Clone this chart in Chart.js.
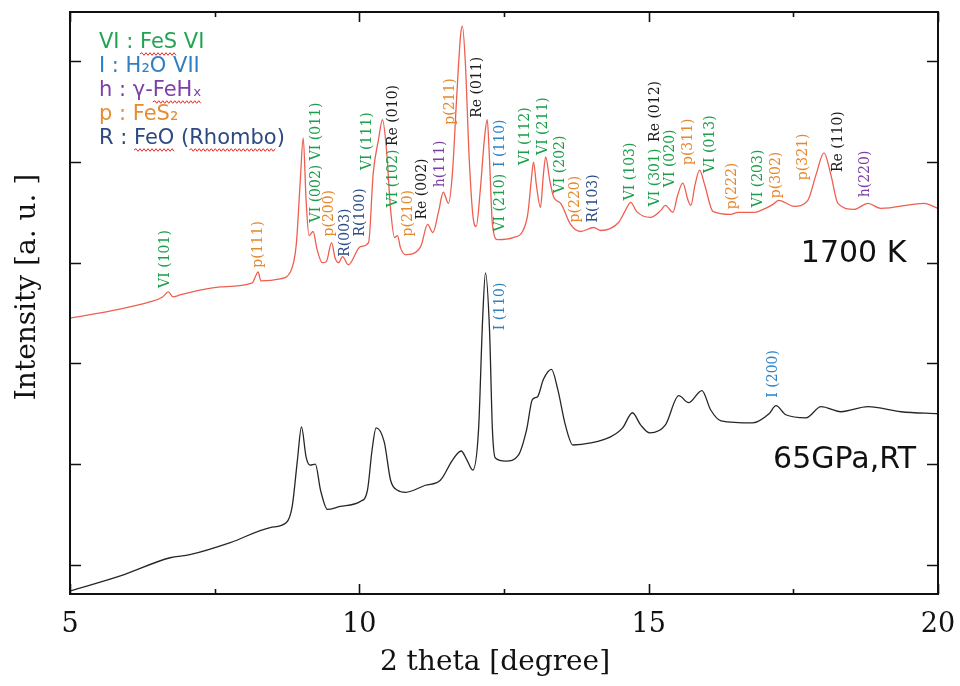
<!DOCTYPE html>
<html>
<head>
<meta charset="utf-8">
<title>XRD patterns - 65 GPa</title>
<script src="https://cdn.jsdelivr.net/npm/chart.js@4.4.1/dist/chart.umd.min.js"></script>
<style>
  html, body { margin: 0; padding: 0; background: #fff; }
  #wrap { width: 960px; height: 686px; }
</style>
</head>
<body>
<div id="wrap"><canvas id="xrd" width="960" height="686"></canvas></div>
<script>
// ========================================
// data (2 theta in degrees, intensity in a.u.)
// ========================================

// after heating, 1700 K (red)
const theta1700 = [5.00, 5.69, 6.38, 6.60, 6.70, 6.78, 6.90, 7.60, 8.15, 8.21, 8.25, 8.30, 8.63, 8.81, 8.91,
  8.98, 9.03, 9.08, 9.13, 9.20, 9.27, 9.36, 9.43, 9.52, 9.58, 9.64, 9.71, 9.81, 10.02, 10.16, 10.24,
  10.33, 10.40, 10.47, 10.54, 10.61, 10.66, 10.71, 10.80, 11.06, 11.18, 11.27, 11.37, 11.45, 11.54,
  11.61, 11.68, 11.75, 11.78, 11.83, 11.90, 11.97, 12.02, 12.09, 12.16, 12.21, 12.25, 12.30, 12.39,
  12.66, 12.82, 12.91, 12.98, 13.01, 13.06, 13.13, 13.18, 13.22, 13.29, 13.36, 13.48, 13.65, 13.82,
  14.05, 14.17, 14.48, 14.59, 14.69, 14.79, 15.03, 15.21, 15.29, 15.42, 15.50, 15.59, 15.68, 15.73,
  15.80, 15.88, 15.97, 16.11, 16.42, 16.54, 16.82, 16.94, 17.15, 17.25, 17.51, 17.75, 17.89, 18.03,
  18.15, 18.27, 18.55, 18.79, 19.01, 19.76, 20.00];
const int1700 = [2.45, 2.52, 2.61, 2.66, 2.71, 2.66, 2.68, 2.76, 2.80, 2.87, 2.91, 2.82, 2.84, 2.91, 3.18,
  3.82, 4.24, 3.62, 3.27, 3.31, 3.13, 3.00, 3.01, 3.20, 3.05, 3.00, 3.06, 2.98, 3.16, 3.20, 3.89,
  4.22, 4.42, 4.12, 3.53, 3.25, 3.27, 3.15, 3.08, 3.16, 3.38, 3.30, 3.51, 3.70, 3.59,
  3.90, 4.62, 5.26, 5.35, 5.01, 4.02, 3.43, 3.36, 3.72, 4.22, 4.42, 4.02, 3.38, 3.23,
  3.25, 3.31, 3.48, 3.87, 4.00, 3.77, 3.55, 3.87, 4.05, 3.82, 3.65, 3.59, 3.38, 3.31,
  3.35, 3.32, 3.40, 3.51, 3.60, 3.51, 3.45, 3.52, 3.57, 3.50, 3.67, 3.79, 3.62, 3.57,
  3.77, 3.92, 3.77, 3.51, 3.48, 3.50, 3.50, 3.52, 3.58, 3.62, 3.56, 3.62, 3.87, 4.09,
  3.87, 3.59, 3.53, 3.59, 3.54, 3.59, 3.54];

// before heating, 65 GPa RT (black)
const thetaRT = [5.00, 5.87, 6.73, 7.07, 7.77, 8.46, 8.74, 8.84, 8.93, 9.00, 9.08, 9.15, 9.24, 9.33, 9.45,
  9.67, 10.02, 10.14, 10.22, 10.29, 10.43, 10.54, 10.66, 10.80, 11.14, 11.40, 11.61, 11.76, 11.86,
  11.96, 12.06, 12.13, 12.18, 12.25, 12.30, 12.35, 12.53, 12.75, 12.89, 12.99, 13.08, 13.18, 13.32,
  13.43, 13.56, 13.69, 14.00, 14.34, 14.55, 14.72, 14.86, 15.02, 15.29, 15.52, 15.69, 15.92, 16.07,
  16.25, 16.80, 17.08, 17.20, 17.37, 17.72, 17.98, 18.32, 18.79, 19.36, 20.00];
const intRT = [-0.26, -0.11, 0.07, 0.10, 0.22, 0.37, 0.42, 0.58, 1.04, 1.37, 1.07, 0.99, 1.00, 0.74, 0.55,
  0.58, 0.63, 0.74, 1.14, 1.36, 1.22, 0.84, 0.74, 0.72, 0.79, 0.84, 1.04, 1.13, 1.04,
  0.94, 1.34, 2.43, 2.90, 2.33, 1.34, 1.06, 1.03, 1.09, 1.34, 1.64, 1.67, 1.84, 1.94,
  1.74, 1.39, 1.19, 1.21, 1.27, 1.36, 1.51, 1.39, 1.31, 1.39, 1.68, 1.61, 1.73, 1.54,
  1.43, 1.41, 1.50, 1.58, 1.49, 1.46, 1.57, 1.52, 1.57, 1.52, 1.50];

// peak indices: text, 2 theta, intensity where the label starts, phase
const peakText = ['VI (101)', 'p(111)', 'VI (002) VI (011)', 'p(200)', 'R(003)', 'R(100)', 'VI (111)',
  'VI (102)', 'Re (010)', 'p(210)', 'Re (002)', 'h(111)', 'p(211)', 'Re (011)', 'VI (210)', 'I (110)',
  'VI (112)', 'VI (211)', 'VI (202)', 'p(220)', 'R(103)', 'VI (103)', 'VI (301)', 'Re (012)', 'VI (020)',
  'p(311)', 'VI (013)', 'p(222)', 'VI (203)', 'p(302)', 'p(321)', 'Re (110)', 'h(220)', 'I (110)', 'I (200)'];
const peakTheta = [6.64, 8.25, 9.26, 9.48, 9.76, 10.02, 10.14, 10.59, 10.59, 10.85, 11.09, 11.40, 11.57,
  12.04, 12.44, 12.44, 12.87, 13.18, 13.48, 13.74, 14.05, 14.69, 15.12, 15.12, 15.38, 15.69, 16.07,
  16.45, 16.89, 17.20, 17.68, 18.27, 18.75, 12.44, 17.16];
const peakBase = [2.75, 2.95, 3.40, 3.26, 3.06, 3.26, 3.92, 3.55, 4.16, 3.26, 3.43, 3.75, 4.37, 4.44,
  3.31, 3.95, 3.97, 4.07, 3.69, 3.40, 3.40, 3.62, 3.56, 4.20, 3.75, 3.97, 3.89, 3.53, 3.55, 3.64,
  3.82, 3.90, 3.65, 2.33, 1.66];
const peakPhase = ['VI', 'p', 'VI', 'p', 'R', 'R', 'VI', 'VI', 'Re', 'p', 'Re', 'h', 'p', 'Re', 'VI', 'I',
  'VI', 'VI', 'VI', 'p', 'R', 'VI', 'VI', 'Re', 'VI', 'p', 'VI', 'p', 'VI', 'p', 'p', 'Re', 'h', 'I', 'I'];

// phase key (top left)
const legendText = ['VI : FeS VI', 'I : H\u2082O VII', 'h : \u03b3-FeH\u2093', 'p : FeS\u2082', 'R : FeO (Rhombo)'];
const legendPhase = ['VI', 'I', 'h', 'p', 'R'];
const legendWavy = [['FeS'], [], ['FeH\u2093'], [], ['FeO', 'Rhombo']];

// sample conditions
const sampleText = ['1700 K', '65GPa,RT'];
const sampleTheta = [17.63, 17.15];
const sampleLevel = [3.08, 1.04];

// axes
const xTickValues = [5, 10, 15, 20];
const xTickLabels = ['5', '10', '15', '20'];

const phaseColor = { VI: '#1c9e4b', I: '#2f84c6', h: '#7b3fa6', p: '#e6892e', R: '#2b4d86', Re: '#1a1a1a' };
const legendColor = { VI: '#22a552', I: '#2f7fc2', h: '#7d40a6', p: '#e68c33', R: '#2d4a80' };

const SERIF = '"DejaVu Serif", "Liberation Serif", serif';
const SANS = '"DejaVu Sans", Verdana, sans-serif';

function squiggle(ctx, x0, x1, y) {
    ctx.beginPath();
    ctx.moveTo(x0, y);
    let up = true;
    for (let xx = x0 + 2; xx <= x1; xx += 2) {
        ctx.lineTo(xx, y + (up ? -1.3 : 1.3));
        up = !up;
    }
    ctx.stroke();
}

// frame, inward ticks, axis text, peak labels, key
const decorPlugin = {
    id: 'decor',
    afterDraw(chart) {
        const { ctx, chartArea: a, scales: { x, y } } = chart;
        ctx.save();

        // frame
        ctx.strokeStyle = '#111';
        ctx.lineWidth = 2;
        ctx.strokeRect(a.left, a.top, a.right - a.left, a.bottom - a.top);

        // inward ticks
        ctx.lineWidth = 1.6;
        x.ticks.forEach(t => {
            const px = Math.round(x.getPixelForValue(t.value)) + 0.5;
            const len = t.value % 5 === 0 ? 10 : 5;
            ctx.beginPath();
            ctx.moveTo(px, a.bottom); ctx.lineTo(px, a.bottom - len);
            ctx.moveTo(px, a.top); ctx.lineTo(px, a.top + len);
            ctx.stroke();
        });
        y.ticks.filter(t => Number.isInteger(t.value)).forEach(t => {
            const py = Math.round(y.getPixelForValue(t.value)) + 0.5;
            ctx.beginPath();
            ctx.moveTo(a.left, py); ctx.lineTo(a.left + 11, py);
            ctx.moveTo(a.right, py); ctx.lineTo(a.right - 11, py);
            ctx.stroke();
        });

        // tick labels
        ctx.fillStyle = '#111';
        ctx.font = '27px ' + SERIF;
        ctx.textAlign = 'center';
        ctx.textBaseline = 'middle';
        xTickValues.forEach((v, i) => {
            ctx.fillText(xTickLabels[i], x.getPixelForValue(v), a.bottom + 31);
        });

        // axis titles
        ctx.font = '28px ' + SERIF;
        ctx.fillText('2 theta [degree]', 495, a.bottom + 69);
        ctx.save();
        ctx.translate(28, 287);
        ctx.rotate(-Math.PI / 2);
        ctx.fillText('Intensity [a. u. ]', 0, 0);
        ctx.restore();

        // peak indices, written upward from their anchor
        ctx.font = '14px ' + SERIF;
        ctx.textAlign = 'left';
        ctx.textBaseline = 'middle';
        peakText.forEach((txt, i) => {
            ctx.save();
            ctx.translate(x.getPixelForValue(peakTheta[i]), y.getPixelForValue(peakBase[i]));
            ctx.rotate(-Math.PI / 2);
            ctx.fillStyle = phaseColor[peakPhase[i]];
            ctx.fillText(txt, 0, 0);
            ctx.restore();
        });

        // sample conditions
        ctx.font = '30px ' + SANS;
        ctx.fillStyle = '#111';
        sampleText.forEach((txt, i) => {
            ctx.fillText(txt, x.getPixelForValue(sampleTheta[i]), y.getPixelForValue(sampleLevel[i]));
        });

        // phase key with the spell-check underlines of the original
        ctx.font = '21px ' + SANS;
        const kx = a.left + 29;
        legendText.forEach((txt, i) => {
            const ky = a.top + 31 + i * 24;
            ctx.fillStyle = legendColor[legendPhase[i]];
            ctx.fillText(txt, kx, ky);
            ctx.strokeStyle = '#e02a2a';
            ctx.lineWidth = 1;
            legendWavy[i].forEach(w => {
                const idx = txt.indexOf(w);
                const x0 = kx + ctx.measureText(txt.slice(0, idx)).width;
                const x1 = x0 + ctx.measureText(w).width;
                squiggle(ctx, x0, x1, ky + 11);
            });
        });

        ctx.restore();
    }
};

const ctx = document.getElementById('xrd').getContext('2d');
new Chart(ctx, {
    type: 'line',
    data: {
        datasets: [
            {
                label: '1700 K',
                data: theta1700.map((t, i) => ({ x: t, y: int1700[i] })),
                borderColor: '#ef5f50',
                borderWidth: 1.3,
                pointRadius: 0,
                cubicInterpolationMode: 'monotone'
            },
            {
                label: '65GPa,RT',
                data: thetaRT.map((t, i) => ({ x: t, y: intRT[i] })),
                borderColor: '#262626',
                borderWidth: 1.3,
                pointRadius: 0,
                cubicInterpolationMode: 'monotone'
            }
        ]
    },
    options: {
        responsive: false,
        animation: false,
        devicePixelRatio: 1,
        layout: { padding: { left: 70, right: 22, top: 12, bottom: 92 } },
        plugins: {
            legend: { display: false },
            tooltip: { enabled: false }
        },
        scales: {
            x: {
                type: 'linear',
                display: false,
                min: 5,
                max: 20,
                ticks: { stepSize: 2.5 }
            },
            y: {
                type: 'linear',
                display: false,
                min: -0.29,
                max: 5.49,
                ticks: { stepSize: 1, includeBounds: false }
            }
        }
    },
    plugins: [decorPlugin]
});
</script>
</body>
</html>
